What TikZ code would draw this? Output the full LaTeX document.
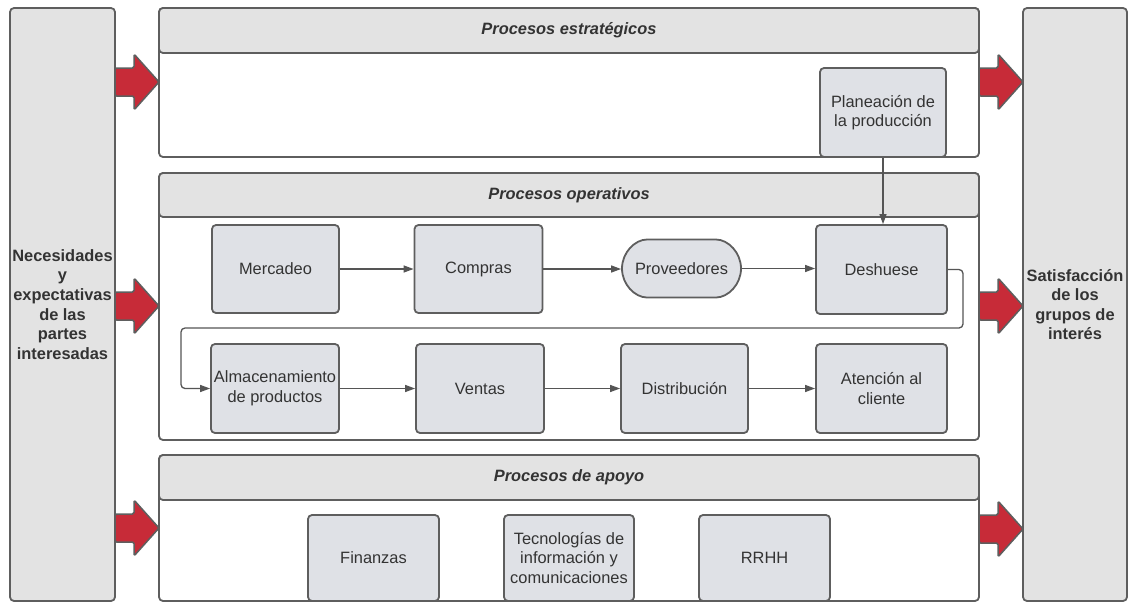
\documentclass[tikz,border=0pt]{standalone}
\usepackage{fontspec}
\setmainfont{Liberation Sans}
\usetikzlibrary{arrows.meta,shapes.misc}
\definecolor{bord}{HTML}{5E5E5E}
\definecolor{biggrey}{HTML}{E3E3E3}
\definecolor{procfill}{HTML}{DFE1E6}
\definecolor{redarr}{HTML}{C72B38}
\definecolor{txt}{HTML}{333333}
\definecolor{conncol}{HTML}{555555}
\tikzset{
  every node/.style={text=txt},
  bigbox/.style={draw=bord, line width=1.8pt, fill=biggrey, rounded corners=4pt, inner sep=1pt, align=center,
    font=\fontsize{16.4}{19.6}\selectfont\bfseries},
  container/.style={draw=bord, line width=1.8pt, fill=white, rounded corners=4pt},
  header/.style={draw=bord, line width=1.8pt, fill=biggrey, rounded corners=4pt, align=center,
    font=\fontsize{16.4}{19.6}\selectfont\bfseries\itshape},
  proc/.style={draw=bord, line width=1.8pt, fill=procfill, rounded corners=4pt, align=center, inner sep=1pt,
    font=\fontsize{16.4}{19.5}\selectfont, minimum width=128pt, minimum height=89pt},
  conn/.style={draw=conncol, line width=1.3pt, -{Triangle[length=10pt,width=7pt]}},
  redblock/.style={draw=bord, line width=1.5pt, fill=redarr, rounded corners=1.5pt, line join=round}
}
\newcommand\blockarrow[3]{%
  \draw[redblock] ({#1},{#3-14}) -- ({#1+19},{#3-14}) -- ({#1+19},{#3-28}) -- ({#2},{#3})
    -- ({#1+19},{#3+28}) -- ({#1+19},{#3+14}) -- ({#1},{#3+14}) -- cycle;}
\begin{document}
\begin{tikzpicture}[x=1pt,y=-1pt]
\useasboundingbox (0,0) rectangle (1130,603);

% side boxes
\node[bigbox, minimum width=105pt, minimum height=593pt] (need) at (62.5,304.5)
  {Necesidades\\y\\expectativas\\de las\\partes\\interesadas};
\node[bigbox, minimum width=104pt, minimum height=593pt] (satis) at (1075,304.5)
  {Satisfacción\\de los\\grupos de\\interés};

% containers
\node[container, minimum width=820pt, minimum height=149pt] (strat) at (569,82.5) {};
\node[header, minimum width=820pt, minimum height=45pt] (strath) at (569,30.5) {Procesos estratégicos};
\node[container, minimum width=820pt, minimum height=267pt] (oper) at (569,306.5) {};
\node[header, minimum width=820pt, minimum height=44pt] (operh) at (569,195) {Procesos operativos};
\node[container, minimum width=820pt, minimum height=146pt] (apoyo) at (569,528) {};
\node[header, minimum width=820pt, minimum height=45pt] (apoyoh) at (569,477.5) {Procesos de apoyo};

% red block arrows
\blockarrow{115}{159}{82}
\blockarrow{115}{159}{306}
\blockarrow{115}{159}{528}
\blockarrow{979}{1023}{82}
\blockarrow{979}{1023}{306}
\blockarrow{979}{1023}{529}

% strategic
\node[proc, minimum width=126pt] (plan) at (883,112.5) {Planeación de\\la producción};

% operative row 1
\node[proc, minimum width=127pt, minimum height=88pt] (merc) at (275.5,269) {Mercadeo};
\node[proc, minimum height=88pt] (comp) at (478.5,269) {Compras};
\node[proc, rounded rectangle, minimum width=121pt, minimum height=58pt] (prov) at (681.5,268.5) {Proveedores};
\node[proc, minimum width=131pt] (desh) at (881.5,269.5) {Deshuese};

% operative row 2
\node[proc] (alm) at (275,388.5) {Almacenamiento\\de productos};
\node[proc] (vent) at (480,388.5) {Ventas};
\node[proc, minimum width=127pt] (dist) at (684.5,388.5) {Distribución};
\node[proc, minimum width=131pt] (aten) at (881.5,388.5) {Atención al\\cliente};

% support
\node[proc, minimum width=131pt, minimum height=86pt] (fin) at (373.5,558) {Finanzas};
\node[proc, minimum width=130pt, minimum height=86pt] (tec) at (569,558) {Tecnologías de\\información y\\comunicaciones};
\node[proc, minimum width=131pt, minimum height=86pt] (rrhh) at (764.5,558) {RRHH};

% connectors
\draw[conn] (plan.south) -- (plan.south |- desh.north);
\draw[conn] (merc.east) -- (comp.west);
\draw[conn] (comp.east) -- (comp.east -| prov.west);
\draw[conn] (prov.east) -- (prov.east -| desh.west);
\coordinate (c1) at (963,328);
\coordinate (c2) at (181,328);
\draw[conn, rounded corners=4pt] (desh.east) -| (c1) -- (c2) |- (alm.west);
\draw[conn] (alm.east) -- (vent.west);
\draw[conn] (vent.east) -- (dist.west);
\draw[conn] (dist.east) -- (aten.west);
\end{tikzpicture}
\end{document}
